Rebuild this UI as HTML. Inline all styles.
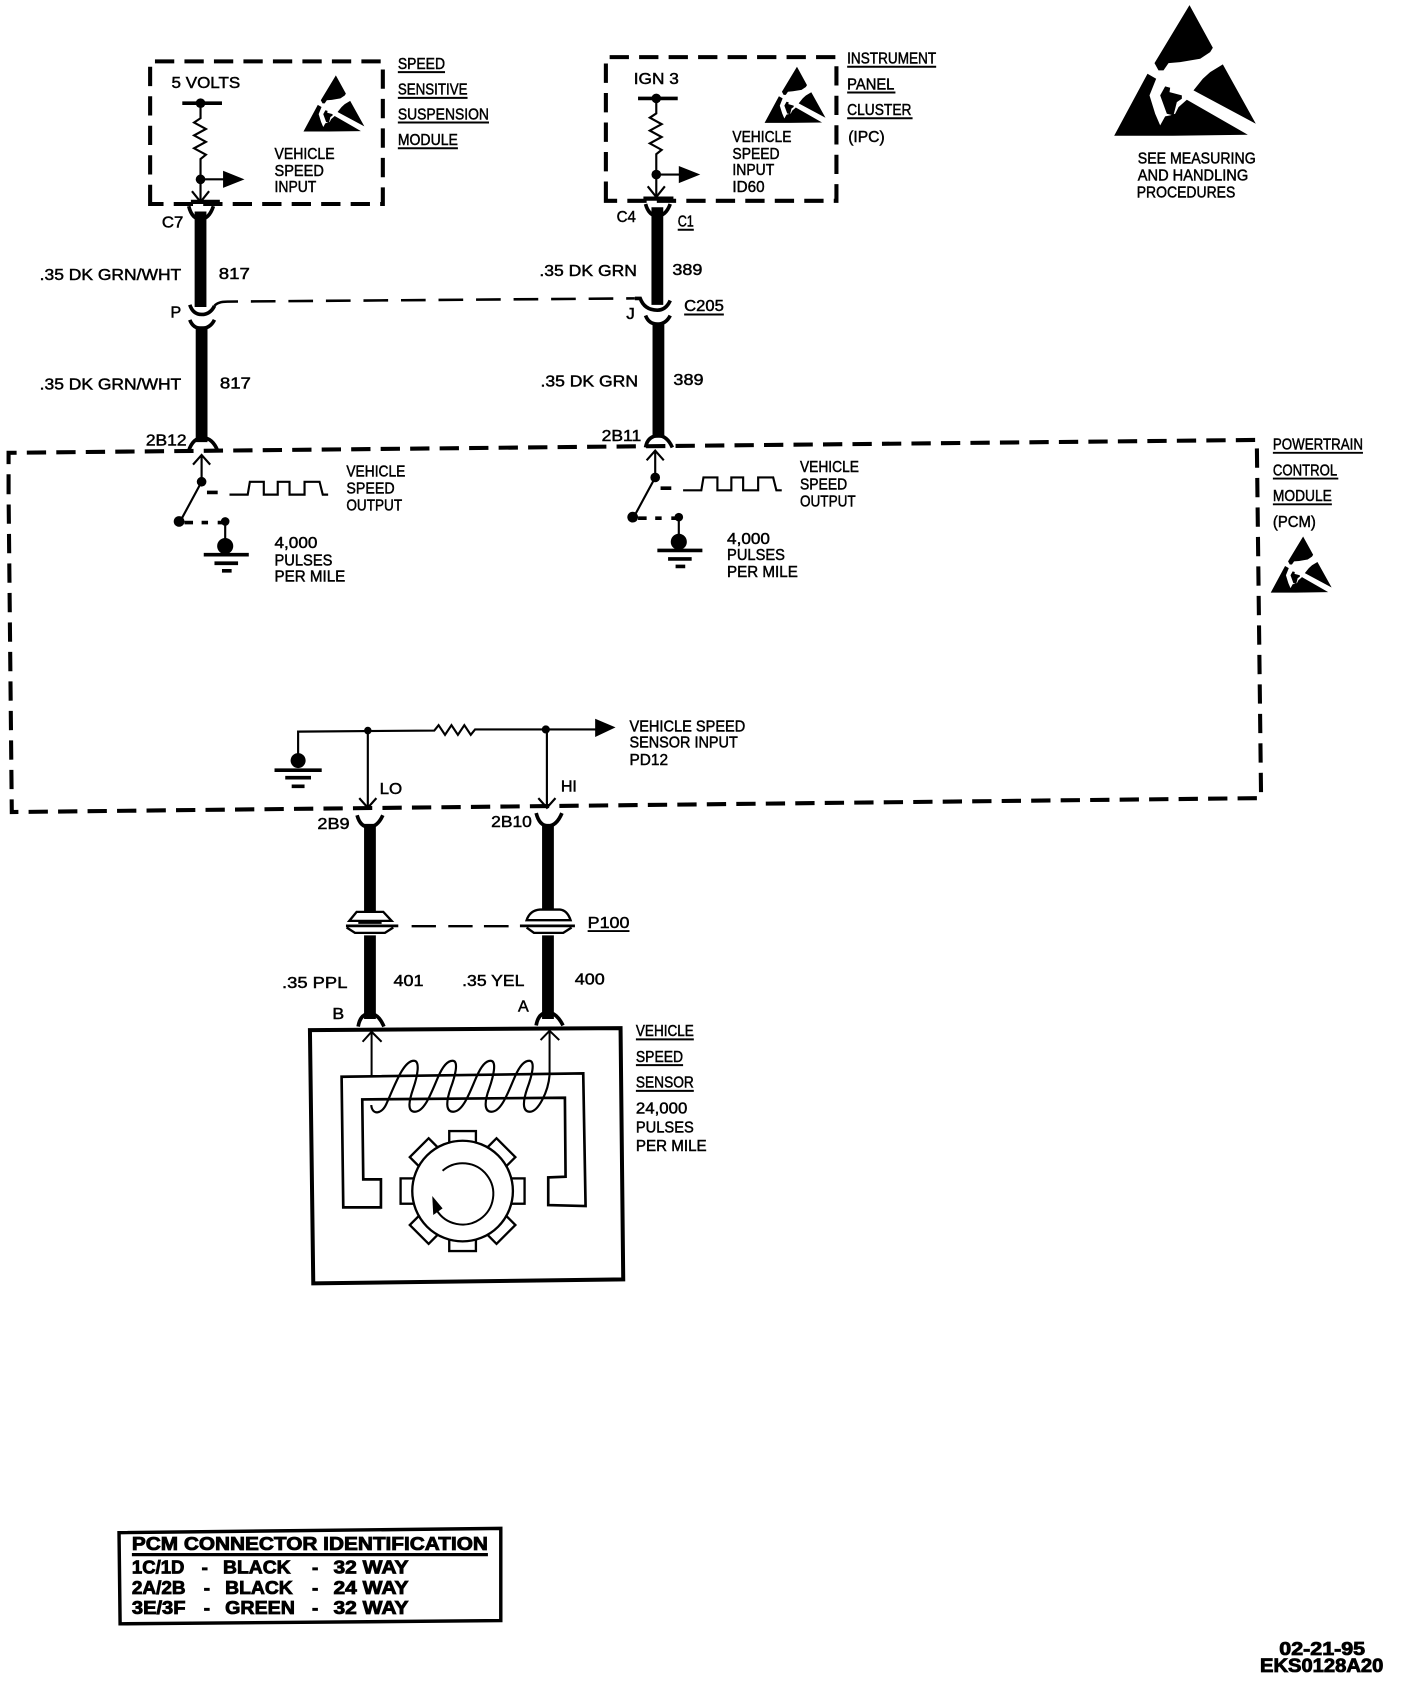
<!DOCTYPE html>
<html><head><meta charset="utf-8"><style>
html,body{margin:0;padding:0;background:#fff}
svg{display:block}
text{font-family:"Liberation Sans",sans-serif;font-size:15px;fill:#000;stroke:#000;stroke-width:.45}
.b{font-weight:bold;font-size:17.5px;stroke-width:.8}
.l{fill:none;stroke:#000;stroke-width:2}
.w{stroke:#000;stroke-width:11;fill:none}
.c{fill:none;stroke:#000;stroke-width:3.4}
.d{fill:none;stroke:#000;stroke-width:3.8;stroke-dasharray:18 9.5}
.u{stroke:#000;stroke-width:1.8}
</style></head><body>
<svg width="1408" height="1682" viewBox="0 0 1313 1568" xmlns="http://www.w3.org/2000/svg">
<defs>
<g id="esd"><g transform="translate(-12,-14)"><path d="M238 14L308 142L300 155L270 175L210 185L175 188L160 210L145 210L133 188ZM338 192L437 370L250 270L278 235L300 215ZM112 220L138 235L118 285L135 340L150 375L165 348L180 345L195 340L205 320L230 298L413 403L188 406L12 406ZM150 285L165 258L180 262L178 275L215 285L215 295L200 305L190 345L170 340Z"/></g></g>
<g id="pull">
<path class="c" d="M170 96H207"/><circle cx="187" cy="96" r="4.5"/>
<path class="l" d="M187 96V110L181 114L192 120L181 126L192 132L181 138L192 144L187 148V188"/>
<circle cx="187" cy="167" r="4.5"/>
<path class="l" d="M187 167H212"/><path d="M208 159L228 167L208 175Z"/>
<path class="l" d="M179 178L187 188L195 178"/>
</g>
<g id="sw">
<path class="l" d="M180 433L188 424L196 433M188 424V449L168 486"/>
<circle cx="188" cy="449" r="4.5"/><circle cx="167" cy="486" r="5"/><circle cx="210" cy="486" r="4"/>
<path class="c" d="M172 487H180M188 487H194M203 487H210"/>
<path class="l" d="M210 486V505"/><circle cx="210" cy="509" r="7.5"/>
<path class="c" d="M190 517H232M200 525H222M207 532H216M193 459H203"/>
<path class="l" d="M214 461H231L233 449H246V461H259V449H270V461H284V449H298L301 461H306"/>
</g>
</defs>

<!-- dashed boxes -->
<path class="d" d="M140 190V57H357V190Z"/>
<path class="d" d="M565 187V53H780V187Z"/>
<path class="d" d="M8 460V422L1172 410L1176 744L11 757Z"/>
<path d="M178 188H205" stroke="#000" stroke-width="4"/>
<path d="M600 185H628" stroke="#000" stroke-width="4"/>

<!-- P to J dashed link -->
<path fill="none" stroke="#000" stroke-width="2.4" stroke-dasharray="23 12" d="M200 285Q203 281 212 281L592 278"/>

<!-- wires -->
<path class="w" d="M187 197V286M188 304V412M613 193V284M614 302V408M345 768V852M511 768V852M345 872V950M511 872V950"/>

<!-- connector cups -->
<path class="c" d="M176 192Q179 204 187 204Q195 204 199 192"/>
<path class="c" d="M602 190Q605 201 613 201Q621 201 625 190"/>
<path class="c" d="M177 284Q180 293 188 293Q196 293 200 285"/>
<path class="c" d="M177 298Q180 306 188 306Q196 306 200 298"/>
<path class="c" d="M592 278H597Q601 289 613 289Q621 289 625 280"/>
<path class="c" d="M602 294Q605 302 613 302Q621 302 625 294"/>
<path class="c" d="M176 420Q180 408 189 408Q198 408 203 420"/>
<path class="c" d="M602 417Q604 406 614 406Q622 406 627 417"/>
<path class="c" d="M333 760Q336 771 344 771Q352 771 357 760"/>
<path class="c" d="M500 758Q503 770 511 770Q519 770 524 758"/>
<path class="c" d="M334 957Q336 945 345 945Q353 945 358 957"/>
<path class="c" d="M500 956Q502 944 511 944Q519 944 525 956"/>

<!-- circuits -->
<use href="#pull"/>
<use href="#pull" transform="translate(425,-4.5)"/>
<use href="#sw"/>
<use href="#sw" transform="translate(423,-4)"/>

<!-- ESD -->
<use href="#esd" transform="translate(1039,4.5) scale(.3108)"/>
<use href="#esd" transform="translate(283,70) scale(.1336)"/>
<use href="#esd" transform="translate(713,62) scale(.1336)"/>
<use href="#esd" transform="translate(1185,500) scale(.1336)"/>

<!-- input network -->
<circle cx="278" cy="709" r="7"/>
<path class="c" d="M256 718H300M266 725H290M272 733H284"/>
<path class="l" d="M278 704V682L405 681L409 676L415 685L421 676L427 685L433 676L439 685L443 680H556"/>
<path d="M555 670L574 678L555 687Z"/>
<circle cx="343" cy="681" r="3.5"/><circle cx="509" cy="680" r="3.8"/>
<path class="l" d="M343 681V752M335 744L343 753L351 744M510 680V752M502 744L510 753L518 744"/>

<!-- P100 connectors (zoom units) -->
<g transform="translate(307.7,839.2) scale(.3108)" fill="#fff" stroke="#000" stroke-width="7">
<path d="M58 62L80 35H160L185 62Z"/>
<path d="M50 82L75 98H165L190 82"/>
<path d="M48 77H205" stroke-width="8"/>
<path d="M85 68H155" stroke-width="6"/>
<path d="M590 60Q600 30 630 28H690Q712 30 722 60Z"/>
<path d="M590 82L612 98H700L725 82"/>
<path d="M570 77H735" stroke-width="8"/>
<path d="M245 78H318M355 78H428M462 78H536" stroke-width="7"/>
</g>

<!-- sensor (zoom units) -->
<g transform="translate(279.7,951) scale(.3108)">
<path fill="none" stroke="#000" stroke-width="12" d="M30 30L962 24L970 778L40 790Z"/>
<path fill="none" stroke="#000" stroke-width="6" d="M215 165V35M188 65L215 35L245 65M749 165V35M722 60L749 32L778 60"/>
<path fill="none" stroke="#000" stroke-width="8" d="M125 170L850 160L857 558L745 555V472L797 470L795 233L187 238L190 478H243V562H130Z"/>
<path fill="none" stroke="#000" stroke-width="6.5" d="M214 255C216 285 245 285 260 250C285 195 310 122 342 122C362 122 352 170 340 205C328 240 320 275 345 275C375 275 395 215 415 170C430 135 445 122 458 122C478 122 465 170 452 205C440 240 435 275 460 275C490 275 510 215 530 170C545 135 560 122 572 122C592 122 580 170 568 205C555 240 550 275 575 275C605 275 625 215 645 170C660 135 675 122 688 122C708 122 695 170 682 205C670 240 665 275 690 275C715 275 745 215 749 165"/>
<g transform="translate(488,513)">
<g fill="#fff" stroke="#000" stroke-width="7">
<rect x="-40" y="-180" width="80" height="36"/>
<rect x="-40" y="-184" width="80" height="40" transform="rotate(45)"/>
<rect x="-38" y="-186" width="76" height="40" transform="rotate(90)"/>
<rect x="-40" y="-184" width="80" height="40" transform="rotate(135)"/>
<rect x="-40" y="-180" width="80" height="36" transform="rotate(180)"/>
<rect x="-40" y="-184" width="80" height="40" transform="rotate(225)"/>
<rect x="-38" y="-186" width="76" height="40" transform="rotate(270)"/>
<rect x="-40" y="-184" width="80" height="40" transform="rotate(315)"/>
</g>
<circle r="151" fill="#fff" stroke="#000" stroke-width="7"/>
<path fill="none" stroke="#000" stroke-width="6" d="M-60 -61A92 92 0 1 1 -78 57"/>
<path d="M-91 15L-60 52L-88 72Z"/>
</g>
</g>

<!-- PCM table -->
<path fill="none" stroke="#000" stroke-width="3.2" d="M111 1429L467 1425V1511L112 1514Z"/>
<path d="M123 1448H455V1451H123Z"/>

<!-- underlines -->
<g class="u">
<path d="M371 67H415M371 91H436M371 114H456M371 138H427M790 62H873M790 86H835M790 110H851M632 214H647M638 293H675M1187 422H1271M1187 446H1248M1187 470H1242M548 868H587M593 969H647M593 993H637M593 1017H647"/>
</g>

<!-- labels -->
<text x="371" y="64" textLength="44" lengthAdjust="spacingAndGlyphs">SPEED</text>
<text x="371" y="88" textLength="65" lengthAdjust="spacingAndGlyphs">SENSITIVE</text>
<text x="371" y="111" textLength="85" lengthAdjust="spacingAndGlyphs">SUSPENSION</text>
<text x="371" y="135" textLength="56" lengthAdjust="spacingAndGlyphs">MODULE</text>
<text x="160" y="82" textLength="64" lengthAdjust="spacingAndGlyphs">5 VOLTS</text>
<text x="256" y="148" textLength="56" lengthAdjust="spacingAndGlyphs">VEHICLE</text>
<text x="256" y="164" textLength="46" lengthAdjust="spacingAndGlyphs">SPEED</text>
<text x="256" y="179" textLength="39" lengthAdjust="spacingAndGlyphs">INPUT</text>
<text x="151" y="212" textLength="20" lengthAdjust="spacingAndGlyphs">C7</text>
<text x="37" y="261" textLength="132" lengthAdjust="spacingAndGlyphs">.35 DK GRN/WHT</text>
<text x="204" y="260" textLength="29" lengthAdjust="spacingAndGlyphs">817</text>
<text x="159" y="296" textLength="10" lengthAdjust="spacingAndGlyphs">P</text>
<text x="37" y="363" textLength="132" lengthAdjust="spacingAndGlyphs">.35 DK GRN/WHT</text>
<text x="205" y="362" textLength="29" lengthAdjust="spacingAndGlyphs">817</text>
<text x="136" y="415" textLength="38" lengthAdjust="spacingAndGlyphs">2B12</text>
<text x="323" y="444" textLength="55" lengthAdjust="spacingAndGlyphs">VEHICLE</text>
<text x="323" y="460" textLength="45" lengthAdjust="spacingAndGlyphs">SPEED</text>
<text x="323" y="476" textLength="52" lengthAdjust="spacingAndGlyphs">OUTPUT</text>
<text x="256" y="511" textLength="40" lengthAdjust="spacingAndGlyphs">4,000</text>
<text x="256" y="527" textLength="54" lengthAdjust="spacingAndGlyphs">PULSES</text>
<text x="256" y="542" textLength="66" lengthAdjust="spacingAndGlyphs">PER MILE</text>
<text x="591" y="78" textLength="42" lengthAdjust="spacingAndGlyphs">IGN 3</text>
<text x="790" y="59" textLength="83" lengthAdjust="spacingAndGlyphs">INSTRUMENT</text>
<text x="790" y="83" textLength="44" lengthAdjust="spacingAndGlyphs">PANEL</text>
<text x="790" y="107" textLength="60" lengthAdjust="spacingAndGlyphs">CLUSTER</text>
<text x="791" y="132" textLength="34" lengthAdjust="spacingAndGlyphs">(IPC)</text>
<text x="683" y="132" textLength="55" lengthAdjust="spacingAndGlyphs">VEHICLE</text>
<text x="683" y="148" textLength="44" lengthAdjust="spacingAndGlyphs">SPEED</text>
<text x="683" y="163" textLength="39" lengthAdjust="spacingAndGlyphs">INPUT</text>
<text x="683" y="179" textLength="30" lengthAdjust="spacingAndGlyphs">ID60</text>
<text x="575" y="207" textLength="18" lengthAdjust="spacingAndGlyphs">C4</text>
<text x="632" y="211" textLength="15" lengthAdjust="spacingAndGlyphs">C1</text>
<text x="503" y="257" textLength="91" lengthAdjust="spacingAndGlyphs">.35 DK GRN</text>
<text x="627" y="256" textLength="28" lengthAdjust="spacingAndGlyphs">389</text>
<text x="638" y="290" textLength="37" lengthAdjust="spacingAndGlyphs">C205</text>
<text x="584" y="297" textLength="8" lengthAdjust="spacingAndGlyphs">J</text>
<text x="504" y="360" textLength="91" lengthAdjust="spacingAndGlyphs">.35 DK GRN</text>
<text x="628" y="359" textLength="28" lengthAdjust="spacingAndGlyphs">389</text>
<text x="561" y="411" textLength="37" lengthAdjust="spacingAndGlyphs">2B11</text>
<text x="746" y="440" textLength="55" lengthAdjust="spacingAndGlyphs">VEHICLE</text>
<text x="746" y="456" textLength="44" lengthAdjust="spacingAndGlyphs">SPEED</text>
<text x="746" y="472" textLength="52" lengthAdjust="spacingAndGlyphs">OUTPUT</text>
<text x="678" y="507" textLength="40" lengthAdjust="spacingAndGlyphs">4,000</text>
<text x="678" y="522" textLength="54" lengthAdjust="spacingAndGlyphs">PULSES</text>
<text x="678" y="538" textLength="66" lengthAdjust="spacingAndGlyphs">PER MILE</text>
<text x="1061" y="152" textLength="110" lengthAdjust="spacingAndGlyphs">SEE MEASURING</text>
<text x="1061" y="168" textLength="103" lengthAdjust="spacingAndGlyphs">AND HANDLING</text>
<text x="1060" y="184" textLength="92" lengthAdjust="spacingAndGlyphs">PROCEDURES</text>
<text x="1187" y="419" textLength="84" lengthAdjust="spacingAndGlyphs">POWERTRAIN</text>
<text x="1187" y="443" textLength="60" lengthAdjust="spacingAndGlyphs">CONTROL</text>
<text x="1187" y="467" textLength="55" lengthAdjust="spacingAndGlyphs">MODULE</text>
<text x="1187" y="491" textLength="40" lengthAdjust="spacingAndGlyphs">(PCM)</text>
<text x="587" y="682" textLength="108" lengthAdjust="spacingAndGlyphs">VEHICLE SPEED</text>
<text x="587" y="697" textLength="101" lengthAdjust="spacingAndGlyphs">SENSOR INPUT</text>
<text x="587" y="713" textLength="36" lengthAdjust="spacingAndGlyphs">PD12</text>
<text x="354" y="740" textLength="21" lengthAdjust="spacingAndGlyphs">LO</text>
<text x="523" y="738" textLength="15" lengthAdjust="spacingAndGlyphs">HI</text>
<text x="296" y="773" textLength="30" lengthAdjust="spacingAndGlyphs">2B9</text>
<text x="458" y="771" textLength="38" lengthAdjust="spacingAndGlyphs">2B10</text>
<text x="548" y="865" textLength="39" lengthAdjust="spacingAndGlyphs">P100</text>
<text x="263" y="921" textLength="61" lengthAdjust="spacingAndGlyphs">.35 PPL</text>
<text x="367" y="919" textLength="28" lengthAdjust="spacingAndGlyphs">401</text>
<text x="431" y="919" textLength="58" lengthAdjust="spacingAndGlyphs">.35 YEL</text>
<text x="536" y="918" textLength="28" lengthAdjust="spacingAndGlyphs">400</text>
<text x="310" y="950" textLength="11" lengthAdjust="spacingAndGlyphs">B</text>
<text x="483" y="943" textLength="10" lengthAdjust="spacingAndGlyphs">A</text>
<text x="593" y="966" textLength="54" lengthAdjust="spacingAndGlyphs">VEHICLE</text>
<text x="593" y="990" textLength="44" lengthAdjust="spacingAndGlyphs">SPEED</text>
<text x="593" y="1014" textLength="54" lengthAdjust="spacingAndGlyphs">SENSOR</text>
<text x="593" y="1038" textLength="48" lengthAdjust="spacingAndGlyphs">24,000</text>
<text x="593" y="1056" textLength="54" lengthAdjust="spacingAndGlyphs">PULSES</text>
<text x="593" y="1073" textLength="66" lengthAdjust="spacingAndGlyphs">PER MILE</text>

<text class="b" x="123" y="1445" textLength="332" lengthAdjust="spacingAndGlyphs">PCM CONNECTOR IDENTIFICATION</text>
<text class="b" x="123" y="1467" textLength="49" lengthAdjust="spacingAndGlyphs">1C/1D</text>
<text class="b" x="188" y="1467">-</text>
<text class="b" x="208" y="1467" textLength="63" lengthAdjust="spacingAndGlyphs">BLACK</text>
<text class="b" x="291" y="1467">-</text>
<text class="b" x="311" y="1467" textLength="70" lengthAdjust="spacingAndGlyphs">32 WAY</text>
<text class="b" x="123" y="1486" textLength="50" lengthAdjust="spacingAndGlyphs">2A/2B</text>
<text class="b" x="190" y="1486">-</text>
<text class="b" x="210" y="1486" textLength="63" lengthAdjust="spacingAndGlyphs">BLACK</text>
<text class="b" x="291" y="1486">-</text>
<text class="b" x="311" y="1486" textLength="70" lengthAdjust="spacingAndGlyphs">24 WAY</text>
<text class="b" x="123" y="1505" textLength="50" lengthAdjust="spacingAndGlyphs">3E/3F</text>
<text class="b" x="190" y="1505">-</text>
<text class="b" x="210" y="1505" textLength="65" lengthAdjust="spacingAndGlyphs">GREEN</text>
<text class="b" x="291" y="1505">-</text>
<text class="b" x="311" y="1505" textLength="70" lengthAdjust="spacingAndGlyphs">32 WAY</text>
<text class="b" x="1193" y="1543" textLength="80" lengthAdjust="spacingAndGlyphs">02-21-95</text>
<text class="b" x="1175" y="1559" textLength="115" lengthAdjust="spacingAndGlyphs" style="font-size:18px">EKS0128A20</text>
</svg>
</body></html>
